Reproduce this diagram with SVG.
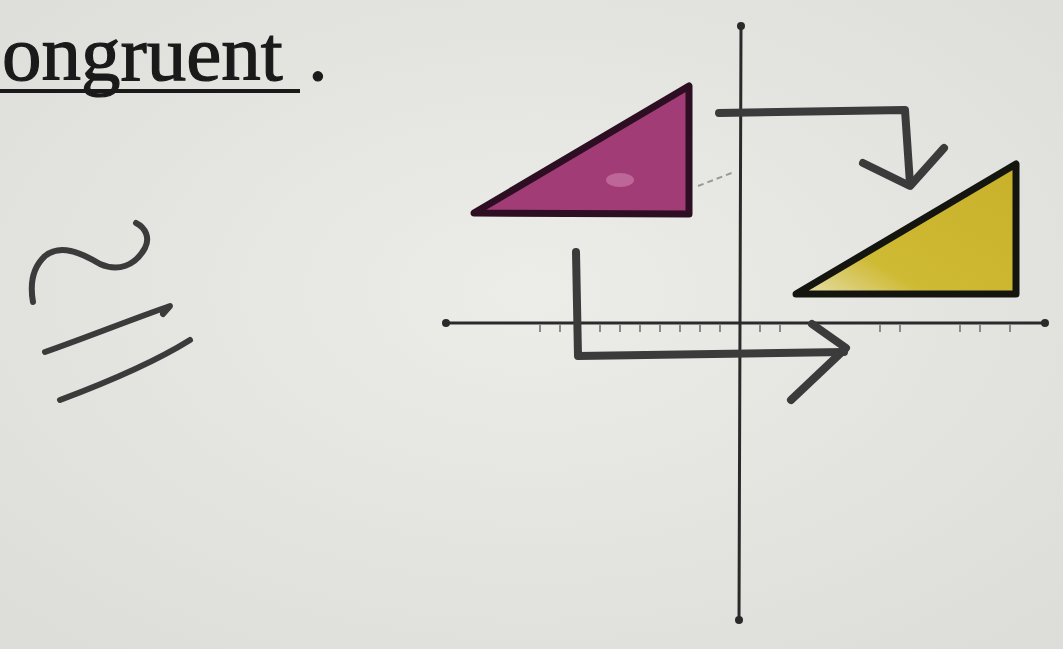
<svg xmlns="http://www.w3.org/2000/svg" width="1063" height="649" viewBox="0 0 1063 649">
  <style>
    .pen { fill: none; stroke: #3b3b3b; stroke-width: 8; stroke-linecap: round; stroke-linejoin: round; }
    .axis { fill: none; stroke: #2a2a2a; stroke-width: 3; stroke-linecap: round; }
    .tick { stroke: #8a8a8a; stroke-width: 2; }
    .word { font-family: "Liberation Serif", "Times New Roman", serif; font-size: 79px; fill: #1a1a1a; stroke: #1a1a1a; stroke-width: 1.2; }
  </style>
  <defs>
    <radialGradient id="paper" cx="0.5" cy="0.45" r="0.75">
      <stop offset="0" stop-color="#ecece8"/>
      <stop offset="1" stop-color="#dcdcd8"/>
    </radialGradient>
    <linearGradient id="yel" x1="0" y1="1" x2="1" y2="0">
      <stop offset="0" stop-color="#e6e0b0"/>
      <stop offset="0.3" stop-color="#cfba34"/>
      <stop offset="1" stop-color="#c8b02a"/>
    </linearGradient>
  </defs>
  <rect width="1063" height="649" fill="url(#paper)"/>

  <g id="title">
    <text class="word" x="2" y="80">ongruent</text>
    <text class="word" x="308" y="80">.</text>
    <line x1="0" y1="91" x2="300" y2="91" stroke="#1a1a1a" stroke-width="4"/>
  </g>

  <g id="congruent-symbol" class="pen" style="stroke-width:6">
    <path d="M33,302 C30,285 32,268 45,256 C60,244 80,252 100,264 C118,272 135,266 145,248 C150,238 146,228 136,223"/>
    <path d="M45,352 C85,338 130,320 170,306 L163,314"/>
    <path d="M60,400 C100,385 150,365 190,340"/>
  </g>

  <g id="axes">
    <line class="axis" x1="741" y1="26" x2="739" y2="620"/>
    <line class="axis" x1="446" y1="323" x2="1045" y2="323"/>
    <circle cx="741" cy="26" r="4" fill="#2a2a2a"/>
    <circle cx="739" cy="620" r="4" fill="#2a2a2a"/>
    <circle cx="446" cy="323" r="4" fill="#2a2a2a"/>
    <circle cx="1045" cy="323" r="4" fill="#2a2a2a"/>
    <g class="tick">
      <line x1="540" y1="325" x2="540" y2="332"/>
      <line x1="560" y1="325" x2="560" y2="332"/>
      <line x1="600" y1="325" x2="600" y2="332"/>
      <line x1="620" y1="325" x2="620" y2="332"/>
      <line x1="640" y1="325" x2="640" y2="332"/>
      <line x1="660" y1="325" x2="660" y2="332"/>
      <line x1="680" y1="325" x2="680" y2="332"/>
      <line x1="700" y1="325" x2="700" y2="332"/>
      <line x1="720" y1="325" x2="720" y2="332"/>
      <line x1="760" y1="325" x2="760" y2="332"/>
      <line x1="780" y1="325" x2="780" y2="332"/>
      <line x1="880" y1="325" x2="880" y2="332"/>
      <line x1="900" y1="325" x2="900" y2="332"/>
      <line x1="960" y1="325" x2="960" y2="332"/>
      <line x1="980" y1="325" x2="980" y2="332"/>
      <line x1="1010" y1="325" x2="1010" y2="332"/>
    </g>
    <line x1="698" y1="186" x2="734" y2="172" stroke="#9a9a9a" stroke-width="2" stroke-dasharray="6 4"/>
  </g>

  <g id="magenta-triangle">
    <polygon points="474,213 689,86 689,214" fill="#a23c76" stroke="#2e0e22" stroke-width="7" stroke-linejoin="round"/>
    <ellipse cx="620" cy="180" rx="14" ry="7" fill="#c977a6" opacity="0.7"/>
  </g>

  <g id="yellow-triangle">
    <polygon points="796,294 1016,164 1016,294" fill="url(#yel)" stroke="#151510" stroke-width="7" stroke-linejoin="round"/>
  </g>

  <g id="connectors" class="pen">
    <path d="M719,113 L905,110 L910,184"/>
    <path d="M863,163 L910,186 L944,148"/>
    <path d="M576,252 L578,356 L844,352"/>
    <path d="M812,324 L846,348 L791,400"/>
  </g>
</svg>
